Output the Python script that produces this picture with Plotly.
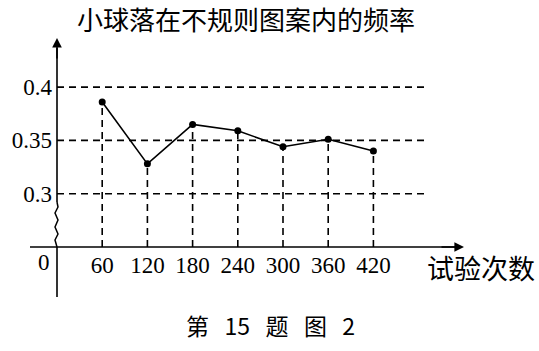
import plotly.graph_objects as go

# ---- data ----
trials = [60, 120, 180, 240, 300, 360, 420]
freq = [0.386, 0.328, 0.365, 0.359, 0.344, 0.351, 0.340]
y_ticks = [0.3, 0.35, 0.4]
y_tick_text = ["0.3", "0.35", "0.4"]
x_tick_text = [str(t) for t in trials]
title_text = "小球落在不规则图案内的频率"
xlabel_text = "试验次数"
caption_text = "第 15 题 图 2"

W, H = 539, 351
# pixel <-> data mapping (plot area = full canvas)
X0PIX, XS = 57.0, 45.2 / 60.0
Y0PIX, Y0VAL, YS = 247.0, 0.25, 53.3 / 0.05


def px2x(p):
    return (p - X0PIX) / XS


def py2y(p):
    return Y0VAL + (Y0PIX - p) / YS


BASE = Y0VAL  # broken-axis baseline
serif = "Liberation Serif, Times New Roman, serif"
cjk = "Noto Sans CJK SC"

fig = go.Figure()

shapes = []
dash = "7px,5px"
# horizontal dashed grid lines
for v in y_ticks:
    shapes.append(dict(type="line", x0=0, x1=px2x(424), y0=v, y1=v,
                       line=dict(color="black", width=1.6, dash=dash)))
# vertical dashed drop lines
for t, f in zip(trials, freq):
    shapes.append(dict(type="line", x0=t, x1=t, y0=BASE, y1=f,
                       line=dict(color="black", width=1.6, dash=dash)))
# x axis line
shapes.append(dict(type="line", x0=px2x(30), x1=px2x(455), y0=BASE, y1=BASE,
                   line=dict(color="black", width=1.6)))
# y axis line (upper part)
shapes.append(dict(type="line", x0=0, x1=0, y0=py2y(202), y1=py2y(48),
                   line=dict(color="black", width=1.6)))
# y axis line (below x axis)
shapes.append(dict(type="line", x0=0, x1=0, y0=py2y(297), y1=BASE,
                   line=dict(color="black", width=1.6)))
# zigzag break on y axis
zz = [(57, 202), (58, 207), (55, 213), (58, 220), (55, 227), (58, 234), (55, 240), (57, 247)]
path = "M " + " L ".join(f"{px2x(a)},{py2y(b)}" for a, b in zz)
shapes.append(dict(type="path", path=path, line=dict(color="black", width=1.5)))

fig.add_trace(go.Scatter(
    x=trials, y=freq, mode="lines+markers",
    line=dict(color="black", width=1.6),
    marker=dict(color="black", size=7),
    showlegend=False, hoverinfo="skip"))

annotations = [
    # arrows
    dict(x=px2x(464), y=BASE, ax=px2x(440), ay=BASE, xref="x", yref="y",
         axref="x", ayref="y", showarrow=True, arrowhead=2, arrowsize=1.2,
         arrowwidth=1.6, arrowcolor="black", text=""),
    dict(x=0, y=py2y(38), ax=0, ay=py2y(60), xref="x", yref="y",
         axref="x", ayref="y", showarrow=True, arrowhead=2, arrowsize=1.2,
         arrowwidth=1.6, arrowcolor="black", text=""),
    dict(x=px2x(44), y=py2y(262), xref="x", yref="y", text="0", showarrow=False,
         xanchor="center", yanchor="middle",
         font=dict(family=serif, size=23, color="black")),
    dict(x=246 / W, y=1 - 19 / H, xref="paper", yref="paper", text=title_text,
         showarrow=False, xanchor="center", yanchor="middle", borderpad=0,
         font=dict(family=cjk, size=26, color="black")),
    dict(x=481 / W, y=1 - 267 / H, xref="paper", yref="paper", text=xlabel_text,
         showarrow=False, xanchor="center", yanchor="middle",
         font=dict(family=cjk, size=27, color="black")),
    dict(x=270 / W, y=1 - 325 / H, xref="paper", yref="paper",
         text=caption_text.replace(" ", "\u00a0\u00a0\u00a0"),
         showarrow=False, xanchor="center", yanchor="middle",
         font=dict(family=cjk, size=23, color="black")),
]

fig.update_layout(
    width=W, height=H, autosize=False,
    margin=dict(l=0, r=0, t=0, b=0),
    paper_bgcolor="white", plot_bgcolor="white",
    shapes=shapes, annotations=annotations,
    xaxis=dict(range=[px2x(0), px2x(W)], showgrid=False, zeroline=False,
               showline=False, ticks="", tickvals=trials, ticktext=x_tick_text,
               anchor="free", position=(H - Y0PIX) / H, side="bottom",
               ticklabelstandoff=2, automargin=False,
               tickfont=dict(family=serif, size=23, color="black")),
    yaxis=dict(range=[py2y(H), py2y(0)], showgrid=False, zeroline=False,
               showline=False, ticks="", tickvals=y_ticks, ticktext=y_tick_text,
               anchor="free", position=X0PIX / W, side="left",
               ticklabelstandoff=5, automargin=False,
               tickfont=dict(family=serif, size=23, color="black")),
)

fig.write_html("out.html")
